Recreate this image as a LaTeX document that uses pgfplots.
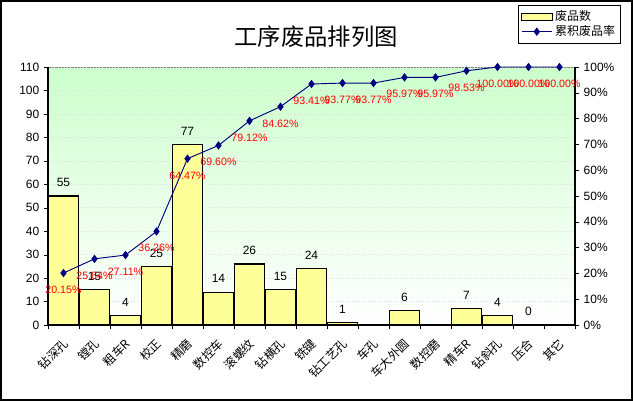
\documentclass[border=0pt]{standalone}
\usepackage{fontspec}
\setmainfont{Liberation Sans}
\newfontfamily\cjk{Noto Sans CJK SC}
\usepackage{pgfplots}
\pgfplotsset{compat=1.18}
\definecolor{barfill}{HTML}{FFFF99}
\definecolor{navy}{HTML}{000080}
\definecolor{topgreen}{HTML}{CCFFCC}
\begin{document}
\begin{tikzpicture}
\path[use as bounding box] (0pt,0pt) rectangle (474.75pt,300.75pt);
\draw[black, line width=1.5pt] (0.75pt,0.75pt) rectangle (474pt,300pt);
\node[font=\cjk\fontsize{17.5}{17.5}\selectfont] at (237pt,273pt) {工序废品排列图};
\begin{axis}[
  at={(36pt,57pt)}, anchor=south west,
  scale only axis, width=395.25pt, height=193.5pt,
  xmin=-0.5, xmax=16.5, ymin=0, ymax=110,
  axis x line*=bottom, axis y line*=left,
  axis line style={black, line width=0.8pt},
  axis background/.style={top color=topgreen, bottom color=white, middle color=topgreen!45, draw=gray, line width=0.6pt},
  ytick={0,10,...,110},
  xtick={0,...,16},
  xticklabels={钻深孔,镗孔,粗车R,校正,精磨,数控车,滚螺纹,钻横孔,铣键,钻工艺孔,车孔,车大外圆,数控磨,精车R,钻斜孔,压合,其它},
  xticklabel style={font=\cjk\fontsize{9}{9}\selectfont, rotate=45, anchor=east, xshift=-2pt, yshift=-8pt},
  major x tick style={draw=none},
  minor xtick={-0.5,0.5,...,16.5},
  minor x tick style={black},
  minor tick length=3pt,
  tick align=outside,
  major tick length=3pt,
  ytick style={black},
  yticklabel style={font=\fontsize{9}{9}\selectfont},
  /pgf/number format/assume math mode=true,
  ymajorgrids,
  grid style={dotted, gray!30},
  ybar, bar width=0.97, bar shift=0pt,
  nodes near coords,
  every node near coord/.append style={font=\fontsize{9}{9}\selectfont, black, anchor=center, yshift=10pt},
  clip=false,
]
\addplot[fill=barfill, draw=black, line width=0.8pt] coordinates {
 (0,55) (1,15) (2,4) (3,25) (4,77) (5,14) (6,26) (7,15) (8,24) (9,1)
 (11,6) (13,7) (14,4) (15,0)
};
\end{axis}
\begin{axis}[
  at={(36pt,57pt)}, anchor=south west,
  scale only axis, width=395.25pt, height=193.5pt,
  xmin=-0.5, xmax=16.5, ymin=0, ymax=100,
  axis x line=none, axis y line*=right,
  axis line style={black, line width=0.8pt},
  ytick={0,10,...,100},
  yticklabel={\pgfmathprintnumber{\tick}\%},
  yticklabel style={font=\fontsize{9}{9}\selectfont},
  /pgf/number format/assume math mode=true,
  tick align=outside, major tick length=3pt, ytick style={black},
  clip=false,
  legend style={at={(1.087,1.240)}, anchor=north east, draw=black, line width=0.6pt, fill=white,
    font=\cjk\fontsize{9}{9}\selectfont, row sep=-2pt, inner sep=2pt,
    /tikz/every even column/.append style={column sep=1pt}},
  legend cell align=left,
]
\addlegendimage{legend image code/.code={\draw[fill=barfill,draw=black,line width=0.6pt] (0cm,-0.09cm) rectangle (0.8cm,0.09cm);}}
\addlegendentry{废品数}
\addplot[navy, line width=0.7pt, mark=diamond*, mark size=2.6pt,
  mark options={fill=navy},
  nodes near coords={\pgfmathprintnumber[fixed,fixed zerofill,precision=2]{\pgfplotspointmeta}\%},
  point meta=y,
  every node near coord/.append style={font=\fontsize{8}{8}\selectfont, red, anchor=center, yshift=-12.5pt},
  legend image code/.code={\draw[mark repeat=2,mark phase=2] plot coordinates {(0cm,0cm) (0.4cm,0cm) (0.8cm,0cm)};}
] coordinates {
 (0,20.15) (1,25.64) (2,27.11) (3,36.26) (4,64.47) (5,69.60) (6,79.12) (7,84.62) (8,93.41)
 (9,93.77) (10,93.77) (11,95.97) (12,95.97) (13,98.53) (14,100.00) (15,100.00) (16,100.00)
};
\addlegendentry{累积废品率}
\end{axis}
\end{tikzpicture}
\end{document}
